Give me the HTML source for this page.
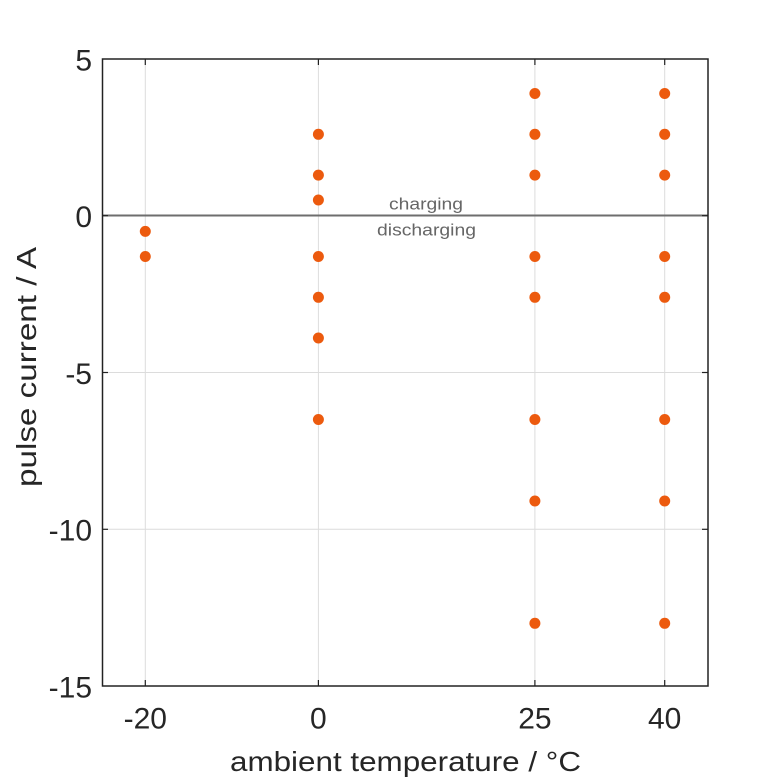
<!DOCTYPE html>
<html><head><meta charset="utf-8"><style>html,body{margin:0;padding:0;background:#fff}svg{display:block}</style></head>
<body>
<svg width="781" height="781" viewBox="0 0 781 781" xmlns="http://www.w3.org/2000/svg" font-family="Liberation Sans, sans-serif">
<rect width="781" height="781" fill="#fff"/>
<!-- grid -->
<g stroke="#dcdcdc" stroke-width="1">
<line x1="145.3" y1="59" x2="145.3" y2="686"/>
<line x1="318.4" y1="59" x2="318.4" y2="686"/>
<line x1="534.9" y1="59" x2="534.9" y2="686"/>
<line x1="664.7" y1="59" x2="664.7" y2="686"/>
<line x1="102" y1="372.5" x2="708" y2="372.5"/>
<line x1="102" y1="529.3" x2="708" y2="529.3"/>
</g>
<!-- zero line -->
<line x1="102" y1="215.5" x2="708" y2="215.5" stroke="#6e6e6e" stroke-width="2"/>
<!-- ticks -->
<g stroke="#222" stroke-width="1.2">
<line x1="145.3" y1="59" x2="145.3" y2="65"/><line x1="145.3" y1="686" x2="145.3" y2="680"/>
<line x1="318.4" y1="59" x2="318.4" y2="65"/><line x1="318.4" y1="686" x2="318.4" y2="680"/>
<line x1="534.9" y1="59" x2="534.9" y2="65"/><line x1="534.9" y1="686" x2="534.9" y2="680"/>
<line x1="664.7" y1="59" x2="664.7" y2="65"/><line x1="664.7" y1="686" x2="664.7" y2="680"/>
<line x1="102" y1="372.5" x2="108" y2="372.5"/><line x1="708" y1="372.5" x2="702" y2="372.5"/>
<line x1="102" y1="529.3" x2="108" y2="529.3"/><line x1="708" y1="529.3" x2="702" y2="529.3"/>
<line x1="102" y1="215.7" x2="108" y2="215.7"/><line x1="708" y1="215.7" x2="702" y2="215.7"/>
</g>
<rect x="102.5" y="59" width="605.5" height="627" fill="none" stroke="#222" stroke-width="1.5"/>
<!-- annotations -->
<text x="426" y="209.5" font-size="17" fill="#666" text-anchor="middle" textLength="74" lengthAdjust="spacingAndGlyphs">charging</text>
<text x="426.5" y="235.5" font-size="17" fill="#666" text-anchor="middle" textLength="99" lengthAdjust="spacingAndGlyphs">discharging</text>
<!-- points -->
<g fill="#ec5a0e">
<circle cx="145.3" cy="231.4" r="5.5"/><circle cx="145.3" cy="256.5" r="5.5"/>
<circle cx="318.4" cy="134.3" r="5.5"/><circle cx="318.4" cy="175.1" r="5.5"/><circle cx="318.4" cy="200" r="5.5"/>
<circle cx="318.4" cy="256.5" r="5.5"/><circle cx="318.4" cy="297.3" r="5.5"/><circle cx="318.4" cy="338" r="5.5"/><circle cx="318.4" cy="419.5" r="5.5"/>
<circle cx="534.9" cy="93.5" r="5.5"/><circle cx="534.9" cy="134.3" r="5.5"/><circle cx="534.9" cy="175.1" r="5.5"/>
<circle cx="534.9" cy="256.5" r="5.5"/><circle cx="534.9" cy="297.3" r="5.5"/><circle cx="534.9" cy="419.5" r="5.5"/><circle cx="534.9" cy="501" r="5.5"/><circle cx="534.9" cy="623.3" r="5.5"/>
<circle cx="664.7" cy="93.5" r="5.5"/><circle cx="664.7" cy="134.3" r="5.5"/><circle cx="664.7" cy="175.1" r="5.5"/>
<circle cx="664.7" cy="256.5" r="5.5"/><circle cx="664.7" cy="297.3" r="5.5"/><circle cx="664.7" cy="419.5" r="5.5"/><circle cx="664.7" cy="501" r="5.5"/><circle cx="664.7" cy="623.3" r="5.5"/>
</g>
<!-- y tick labels -->
<g font-size="30" fill="#262626" text-anchor="end">
<text x="92" y="70.5">5</text>
<text x="92" y="227">0</text>
<text x="92" y="384">-5</text>
<text x="92" y="540.5">-10</text>
<text x="92" y="697.5">-15</text>
</g>
<!-- x tick labels -->
<g font-size="30" fill="#262626" text-anchor="middle">
<text x="145.3" y="728.5">-20</text>
<text x="318.4" y="728.5">0</text>
<text x="534.9" y="728.5">25</text>
<text x="664.7" y="728.5">40</text>
</g>
<!-- axis labels -->
<text x="405.5" y="771" font-size="28" fill="#262626" text-anchor="middle" textLength="351" lengthAdjust="spacingAndGlyphs">ambient temperature / °C</text>
<text transform="translate(36,367) rotate(-90)" font-size="28" fill="#262626" text-anchor="middle" textLength="240" lengthAdjust="spacingAndGlyphs">pulse current / A</text>
</svg>
</body></html>
